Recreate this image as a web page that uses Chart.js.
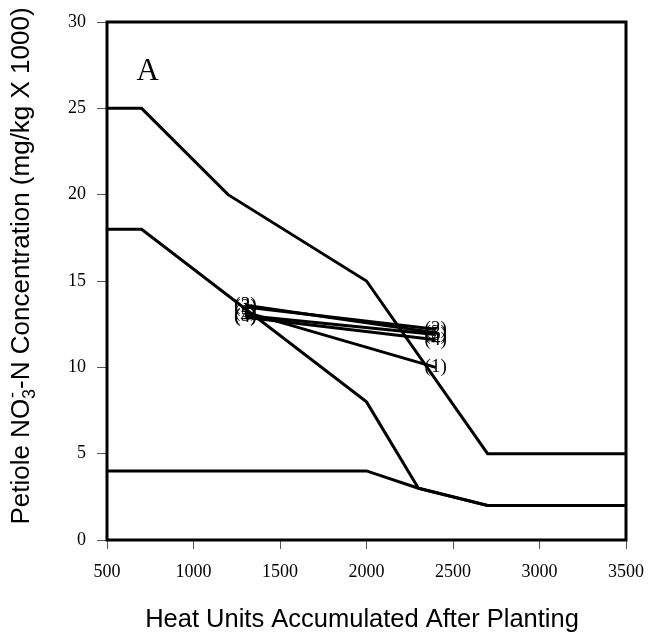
<!DOCTYPE html>
<html>
<head>
<meta charset="utf-8">
<script src="https://cdn.jsdelivr.net/npm/chart.js@4/dist/chart.umd.min.js"></script>
<style>
  html, body { margin: 0; padding: 0; background: #fff; }
  #wrap { width: 648px; height: 638px; }
</style>
</head>
<body>
<div id="wrap"><canvas id="petioleChart" width="648" height="638"></canvas></div>
<script>
// boundary curves (heat units vs NO3-N, mg/kg x 1000)
const upperX = [500, 700, 1200, 2000, 2700, 3500];
const upperY = [25, 25, 20, 15, 5, 5];
const middleX = [500, 700, 2000, 2300, 2700, 3500];
const middleY = [18, 18, 8, 3, 2, 2];
const lowerX = [500, 2000, 2300, 2700, 3500];
const lowerY = [4, 4, 3, 2, 2];

// sampled fields, two dates each
const sampleX = [1300, 2400];
const sampleLabels = ['(1)', '(2)', '(3)', '(4)', '(5)'];
const sample1 = [13.2, 10.0];
const sample2 = [13.5, 12.2];
const sample3 = [13.6, 12.0];
const sample4 = [12.9, 11.6];
const sample5 = [13.0, 11.9];

const xMin = 500, xMax = 3500, xStep = 500;
const yMin = 0, yMax = 30, yStep = 5;
const panelLetter = 'A';
const panelAt = [735, 27.1];

const serif = '"Liberation Serif", "Times New Roman", serif';
const sans = '"Liberation Sans", Arial, sans-serif';

const toPts = (xs, ys) => xs.map((x, i) => ({ x: x, y: ys[i] }));

const lineSet = (xs, ys, extra) => Object.assign({
    data: toPts(xs, ys),
    borderColor: '#000',
    borderWidth: 3,
    pointRadius: 0,
    tension: 0,
    fill: false
}, extra || {});

const samples = [sample1, sample2, sample3, sample4, sample5];
const datasets = [
    lineSet(upperX, upperY),
    lineSet(middleX, middleY),
    lineSet(lowerX, lowerY)
];
samples.forEach((s, i) => datasets.push(lineSet(sampleX, s, { tag: sampleLabels[i] })));

// frame, point labels, panel letter and axis titles
const decor = {
    id: 'decor',
    afterDatasetsDraw(chart) {
        const ctx = chart.ctx;
        const a = chart.chartArea;
        ctx.save();
        ctx.fillStyle = '#000';
        ctx.font = '19px ' + serif;
        ctx.textAlign = 'center';
        ctx.textBaseline = 'middle';
        chart.data.datasets.forEach((ds, i) => {
            if (!ds.tag) return;
            chart.getDatasetMeta(i).data.forEach(p => ctx.fillText(ds.tag, p.x, p.y));
        });

        ctx.font = '31px ' + serif;
        ctx.fillText(panelLetter, chart.scales.x.getPixelForValue(panelAt[0]), chart.scales.y.getPixelForValue(panelAt[1]));

        ctx.strokeStyle = '#000';
        ctx.lineWidth = 3;
        ctx.strokeRect(a.left, a.top, a.right - a.left, a.bottom - a.top);

        // x title
        ctx.font = '25.5px ' + sans;
        ctx.textBaseline = 'alphabetic';
        ctx.fillText('Heat Units Accumulated After Planting', 362, 627);

        // y title with sub/superscript
        ctx.translate(29, 266);
        ctx.rotate(-Math.PI / 2);
        const big = '26px ' + sans;
        const small = '18px ' + sans;
        const parts = [
            { t: 'Petiole NO', f: big },
            { t: '3', f: small },
            { t: '-', f: small },
            { t: '-N Concentration (mg/kg X 1000)', f: big }
        ];
        parts.forEach(p => { ctx.font = p.f; p.w = ctx.measureText(p.t).width; });
        // sub and superscript share horizontal room
        const mid = Math.max(parts[1].w, parts[2].w);
        const total = parts[0].w + mid + parts[3].w;
        let x = -total / 2;
        ctx.textAlign = 'left';
        ctx.font = big; ctx.fillText(parts[0].t, x, 0); x += parts[0].w;
        ctx.font = small; ctx.fillText(parts[1].t, x, 6);
        ctx.fillText(parts[2].t, x + 1, -11);
        x += mid;
        ctx.font = big; ctx.fillText(parts[3].t, x, 0);
        ctx.restore();
    }
};

new Chart(document.getElementById('petioleChart'), {
    type: 'line',
    data: { datasets: datasets },
    options: {
        responsive: false,
        animation: false,
        layout: { padding: { top: 22, right: 22, left: 0, bottom: 0 } },
        plugins: { legend: { display: false }, tooltip: { enabled: false } },
        scales: {
            x: {
                type: 'linear',
                min: xMin, max: xMax,
                ticks: {
                    stepSize: xStep,
                    color: '#000',
                    padding: 12,
                    maxRotation: 0,
                    callback: v => String(v),
                    font: { family: serif, size: 18 }
                },
                grid: { drawOnChartArea: false, tickLength: 9, color: '#555', lineWidth: 1 },
                border: { display: false },
                afterFit: s => {
                    s.height = 98;
                    s.paddingLeft = 0;
                    s.paddingRight = 0;
                }
            },
            y: {
                type: 'linear',
                min: yMin, max: yMax,
                ticks: {
                    stepSize: yStep,
                    color: '#000',
                    padding: 11,
                    callback: v => String(v),
                    font: { family: serif, size: 18 }
                },
                grid: { drawOnChartArea: false, tickLength: 10, color: '#555', lineWidth: 1 },
                border: { display: false },
                afterFit: s => {
                    s.width = 107;
                    s.paddingTop = 0;
                    s.paddingBottom = 0;
                }
            }
        }
    },
    plugins: [decor]
});
</script>
</body>
</html>
